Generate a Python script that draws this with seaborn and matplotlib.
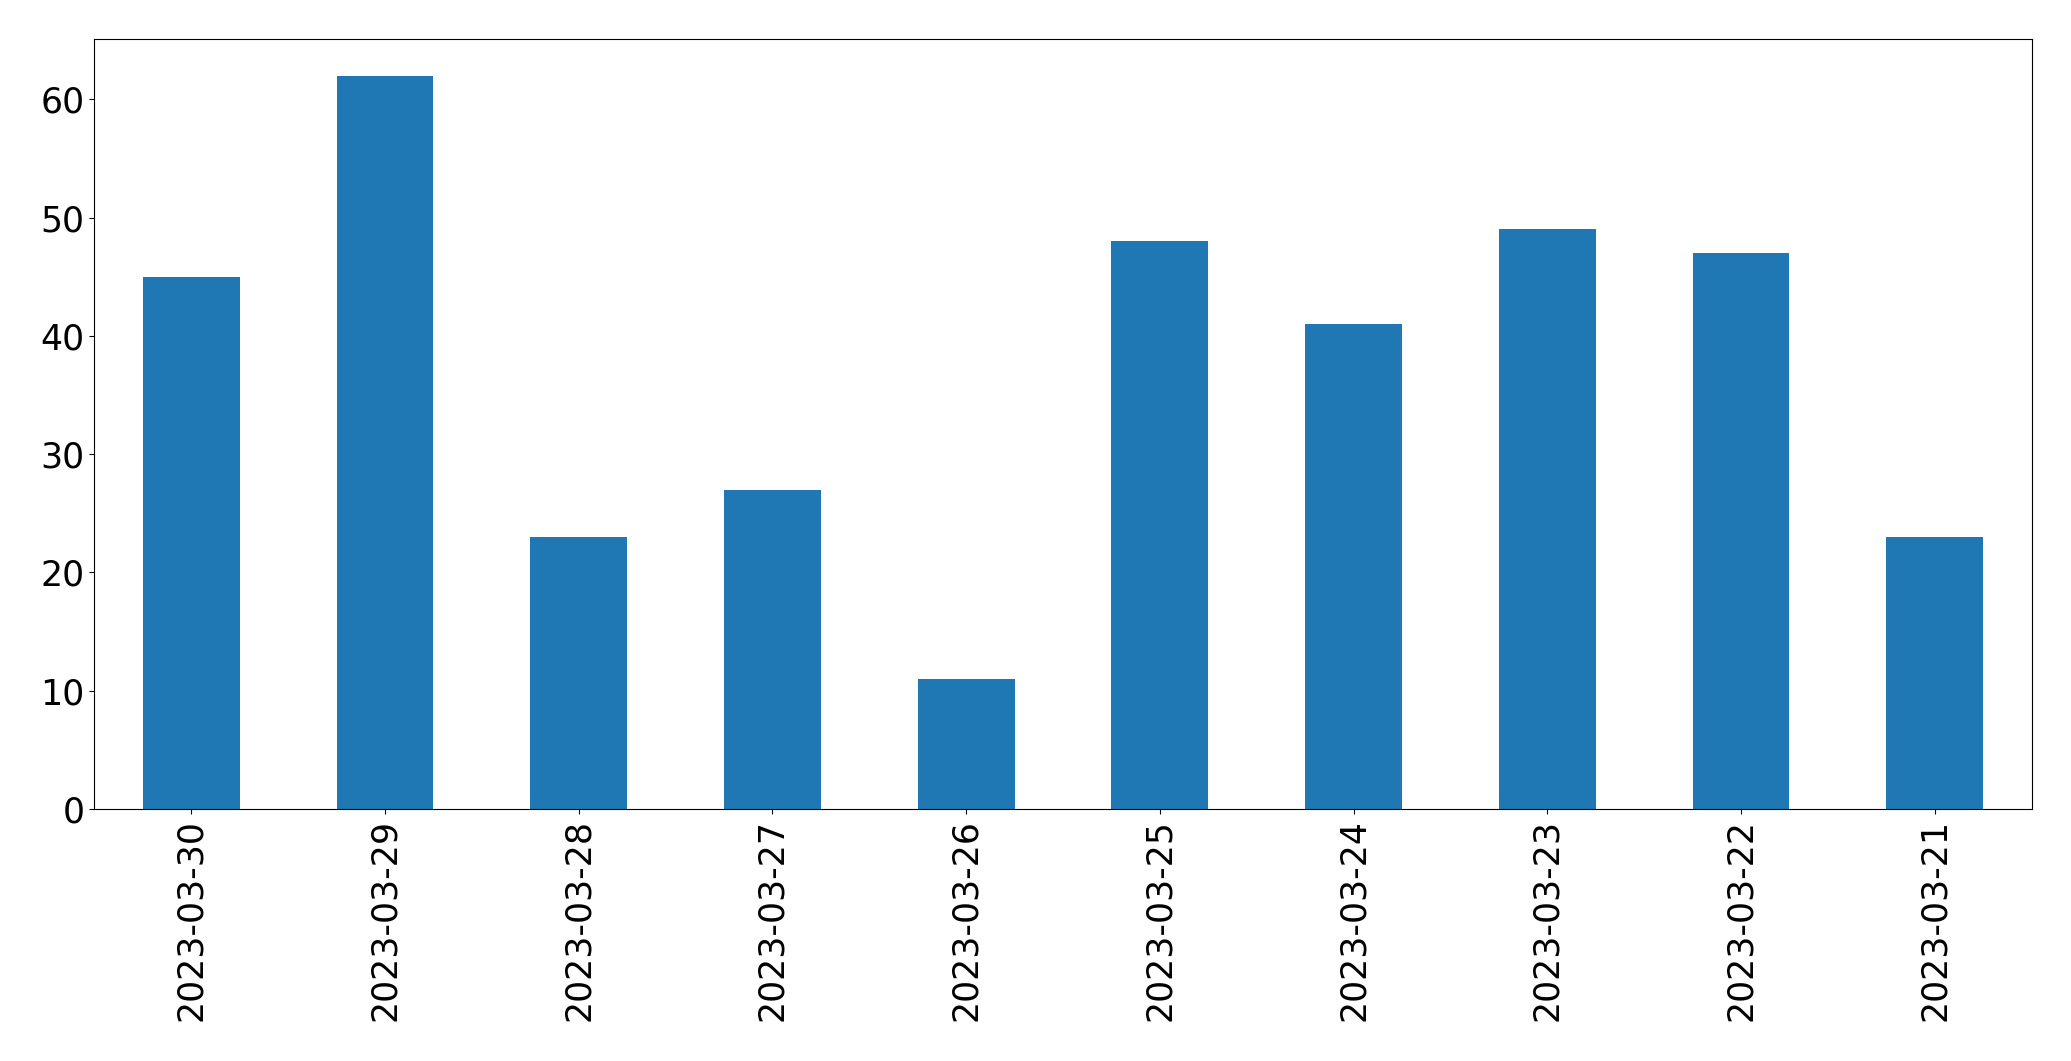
import matplotlib
matplotlib.use("Agg")
import matplotlib.pyplot as plt
import seaborn as sns
import pandas as pd

dates = ["2023-03-30", "2023-03-29", "2023-03-28", "2023-03-27", "2023-03-26",
         "2023-03-25", "2023-03-24", "2023-03-23", "2023-03-22", "2023-03-21"]
counts = [45, 62, 23, 27, 11, 48, 41, 49, 47, 23]

df = pd.DataFrame({"date": dates, "count": counts})

fig, ax = plt.subplots(figsize=(20.71, 10.61), dpi=100)
sns.barplot(data=df, x="date", y="count", order=dates, color="#1f77b4",
            saturation=1, width=0.5, ax=ax)
ax.set_xlim(-0.5, len(dates) - 0.5)
ax.set_ylim(0, max(counts) * 1.05)
ax.set_xlabel("")
ax.set_ylabel("")
ax.tick_params(axis="both", labelsize=25)
plt.setp(ax.get_xticklabels(), rotation=90)
fig.subplots_adjust(left=0.0456, right=0.981, top=0.9632, bottom=0.2375)
fig.savefig("out.png", dpi=100)
